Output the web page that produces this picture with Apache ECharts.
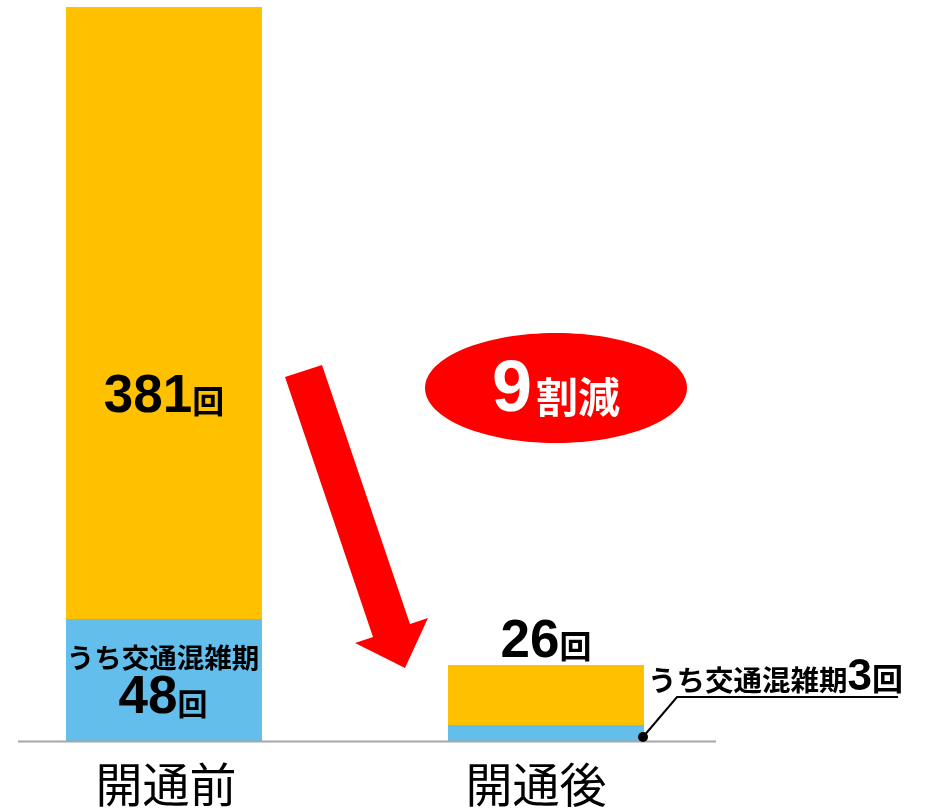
<!DOCTYPE html>
<html><head><meta charset="utf-8">
<script src="https://cdn.jsdelivr.net/npm/echarts@6/dist/echarts.min.js"></script>
<style>html,body{margin:0;padding:0;background:#fff}#c{width:926px;height:811px}</style>
</head><body><div id="c"></div>
<script>
// categories
const categories = ['開通前', '開通後'];
// drawn bar heights (axis max = 381)
const congestionHeights = [63.3, 8.3];
const otherHeights = [317.7, 31.1];
const yMax = 381;
// label texts
const totalLabels = ['381', '26'];
const congestionLabels = ['48', '3'];
const congestionText = 'うち交通混雑期';
const unit = '回';
const reductionNumber = '9';
const reductionText = '割減';

const JP = '"Noto Sans CJK JP", sans-serif';
const NUM = '"Liberation Sans", Arial, sans-serif';
const BLUE = '#64BEEC';
const ORANGE = '#FFC000';

const chart = echarts.init(document.getElementById('c'));
chart.setOption({
  animation: false,
  grid: { left: 164, right: 380, top: 7, bottom: 70 },
  xAxis: {
    type: 'category', data: categories, boundaryGap: false,
    axisLine: { show: false }, axisTick: { show: false },
    axisLabel: {
      margin: 20, fontFamily: JP, fontSize: 47, color: '#000', fontWeight: 'normal',
      formatter: (v, i) => i === 1 ? '{b|' + v + '}' : '{a|' + v + '}',
      rich: {
        a: { fontFamily: JP, fontSize: 47, color: '#000', padding: [0, 0, 0, 4] },
        b: { fontFamily: JP, fontSize: 47, color: '#000', padding: [0, 20, 0, 0] }
      }
    }
  },
  yAxis: { type: 'value', min: 0, max: yMax, show: false, splitLine: { show: false } },
  series: [
    {
      type: 'bar', stack: 's', barWidth: 196,
      itemStyle: { color: BLUE },
      data: congestionHeights.map((v, i) => ({
        value: v,
        label: i === 0 ? {
          show: true, position: 'inside', offset: [-1, 3],
          formatter: '{t|' + congestionText + '}\n{n|' + congestionLabels[i] + '}{u|' + unit + '}',
          rich: {
            t: { fontFamily: JP, fontWeight: 'bold', fontSize: 27.5, color: '#000', lineHeight: 34 },
            n: { fontFamily: NUM, fontWeight: 'bold', fontSize: 53, color: '#000', lineHeight: 50, verticalAlign: 'bottom' },
            u: { fontFamily: JP, fontWeight: 'bold', fontSize: 30, color: '#000', lineHeight: 50, verticalAlign: 'bottom', padding: [0, 0, 6, 0] }
          }
        } : {
          show: true, position: 'right', distance: 4, offset: [0, -51],
          formatter: '{t|' + congestionText + '}{n|' + congestionLabels[i] + '}{u|' + unit + '}',
          rich: {
            t: { fontFamily: JP, fontWeight: 'bold', fontSize: 28.5, color: '#000', lineHeight: 36, verticalAlign: 'bottom', padding: [0, 0, 6, 0] },
            n: { fontFamily: NUM, fontWeight: 'bold', fontSize: 44, color: '#000', lineHeight: 36, verticalAlign: 'bottom' },
            u: { fontFamily: JP, fontWeight: 'bold', fontSize: 31, color: '#000', lineHeight: 36, verticalAlign: 'bottom', padding: [0, 0, 6, 0] }
          }
        }
      }))
    },
    {
      type: 'bar', stack: 's', barWidth: 196,
      itemStyle: { color: ORANGE },
      data: otherHeights.map((v, i) => ({
        value: v,
        label: {
          show: true,
          position: i === 0 ? ['50%', '64.1%'] : 'top',
          align: 'center', verticalAlign: i === 0 ? 'middle' : 'bottom',
          distance: 0, offset: i === 0 ? [0, 0] : [0, 4],
          formatter: '{n|' + totalLabels[i] + '}{u|' + unit + '}',
          rich: {
            n: { fontFamily: NUM, fontWeight: 'bold', fontSize: 53, color: '#000', lineHeight: 50, verticalAlign: 'bottom' },
            u: { fontFamily: JP, fontWeight: 'bold', fontSize: 32, color: '#000', lineHeight: 50, verticalAlign: 'bottom', padding: [0, 0, 7, 0] }
          }
        }
      }))
    }
  ]
});

// decorations anchored to the chart's own coordinates
const base = chart.convertToPixel({ gridIndex: 0 }, [1, 0]);
const by = base[1];
const barRight = base[0] + 98;
chart.setOption({
  graphic: [
    { type: 'line', shape: { x1: 18, y1: by + 0.5, x2: 716, y2: by + 0.5 }, style: { stroke: '#A6A6A6', lineWidth: 2 }, z: 10 },
    { type: 'polygon', shape: { points: [[285, 377], [322, 365], [410, 624], [428, 618], [405, 668], [355, 643], [373, 637]] }, style: { fill: '#FF0000' }, z: 10 },
    { type: 'ellipse', shape: { cx: 556, cy: 388, rx: 131, ry: 55 }, style: { fill: '#FF0000' }, z: 10 },
    { type: 'text', x: 556, y: 427, z: 11, style: {
        text: '{n|' + reductionNumber + '}{u|' + reductionText + '}',
        align: 'center', verticalAlign: 'bottom',
        rich: {
          n: { font: 'bold 72px ' + NUM, fill: '#fff', lineHeight: 60, verticalAlign: 'bottom' },
          u: { font: 'bold 42px ' + JP, fill: '#fff', lineHeight: 60, verticalAlign: 'bottom', padding: [0, 0, 9, 4] }
        }
    } },
    { type: 'polyline', shape: { points: [[barRight - 1, by - 4], [677, 697], [898, 697]] }, style: { stroke: '#000', lineWidth: 2, fill: null }, z: 12 },
    { type: 'circle', shape: { cx: barRight - 1, cy: by - 4, r: 5 }, style: { fill: '#000' }, z: 12 }
  ]
});
</script></body></html>
